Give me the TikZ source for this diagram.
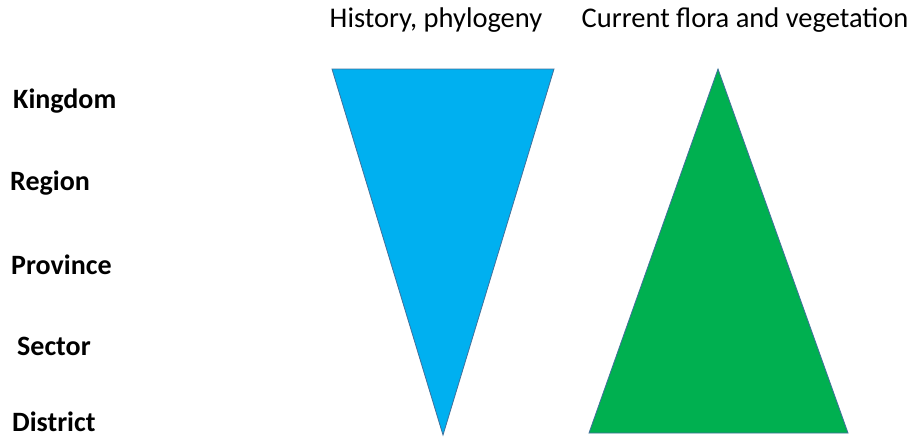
\documentclass[tikz,border=0pt]{standalone}
\usepackage{fontspec}
\setmainfont{Carlito}
\definecolor{tblue}{HTML}{00B0F0}
\definecolor{tgreen}{HTML}{00B050}
\definecolor{tline}{HTML}{41719C}
\begin{document}
\begin{tikzpicture}[x=1pt,y=-1pt,
  lvl/.style={anchor=west,font=\fontsize{28}{32}\selectfont\bfseries,inner sep=0pt},
  hdr/.style={font=\fontsize{28.5}{32}\selectfont,inner sep=0pt},
  tri/.style={draw=tline,line width=0.8pt}]
\useasboundingbox (0,0) rectangle (913,437);
\node[lvl] (kingdom) at (13,101) {Kingdom};
\node[lvl] (region) at (10,183) {Region};
\node[lvl] (province) at (11,265) {Province};
\node[lvl] (sector) at (17,346) {Sector};
\node[lvl] (district) at (12,422) {District};
\node[hdr] (hist) at (436,20) {History, phylogeny};
\node[hdr] (flora) at (745,20) {Current flora and vegetation};
\coordinate (b1) at (332,69);
\coordinate (b2) at (554,69);
\coordinate (b3) at (443,435);
\fill[tblue] (b1) -- (b2) -- (b3) -- cycle;
\draw[tri] (b1) -- (b2) -- (b3) -- cycle;
\coordinate (g1) at (718,69);
\coordinate (g2) at (848,433);
\coordinate (g3) at (589,433);
\fill[tgreen] (g1) -- (g2) -- (g3) -- cycle;
\draw[tri] (g1) -- (g2) -- (g3) -- cycle;
\end{tikzpicture}
\end{document}
